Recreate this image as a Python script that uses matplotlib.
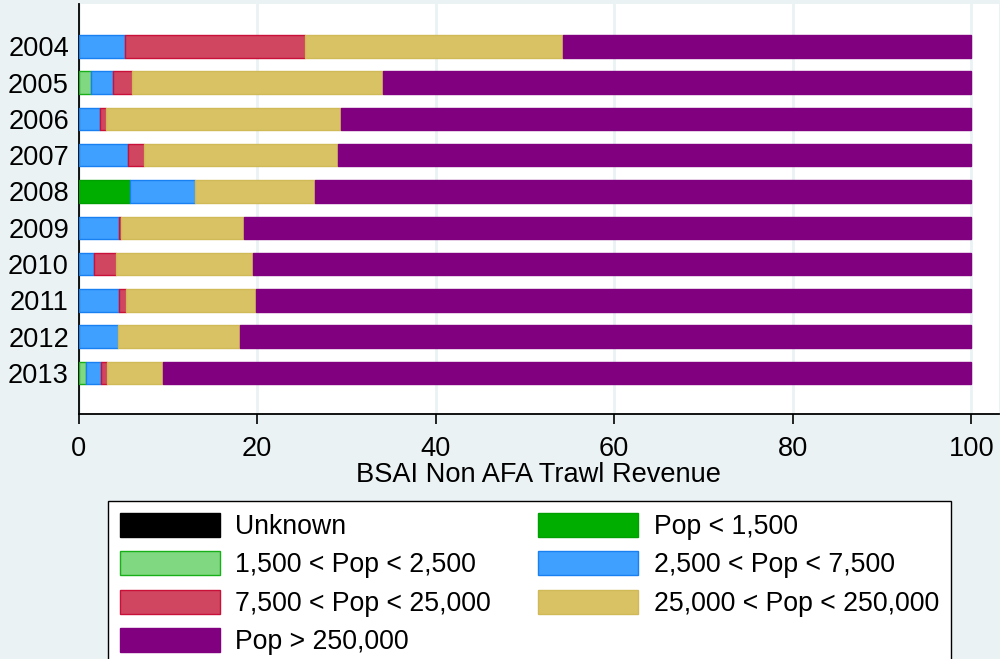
import numpy as np
import matplotlib
matplotlib.use("Agg")
import matplotlib.pyplot as plt
import matplotlib.patches as mpatches

plt.rcParams['font.family'] = ['Liberation Sans', 'DejaVu Sans']

years = ["2004", "2005", "2006", "2007", "2008", "2009", "2010", "2011", "2012", "2013"]
series_labels = ["Unknown", "Pop < 1,500", "1,500 < Pop < 2,500", "2,500 < Pop < 7,500",
                 "7,500 < Pop < 25,000", "25,000 < Pop < 250,000", "Pop > 250,000"]
unknown      = [0, 0, 0, 0, 0, 0, 0, 0, 0, 0]
pop_lt_1500  = [0, 0, 0, 0, 5.7, 0, 0, 0, 0, 0]
pop_1500_2500 = [0, 1.4, 0, 0, 0, 0, 0, 0, 0, 0.85]
pop_2500_7500 = [5.2, 2.4, 2.35, 5.5, 7.3, 4.5, 1.7, 4.55, 4.4, 1.65]
pop_7500_25k  = [20.1, 2.2, 0.7, 1.85, 0, 0.25, 2.5, 0.75, 0, 0.65]
pop_25k_250k  = [29.0, 28.1, 26.35, 21.65, 13.5, 13.75, 15.3, 14.55, 13.7, 6.35]
pop_gt_250k   = [45.7, 65.9, 70.6, 71.0, 73.5, 81.5, 80.5, 80.15, 81.9, 90.5]

series = [unknown, pop_lt_1500, pop_1500_2500, pop_2500_7500, pop_7500_25k, pop_25k_250k, pop_gt_250k]
fills = ["#000000", "#00AE00", "#80D880", "#40A0FF", "#D04560", "#D8C264", "#800080"]
edges = ["#000000", "#00A000", "#18B018", "#1880F0", "#C81038", "#D0BA58", "#800080"]

bg = "#EAF2F3"
fs = 19.6
lfs = 19.2
fig = plt.figure(figsize=(10, 6.59), dpi=100, facecolor=bg)
ax = fig.add_axes([0.0787, 1 - 414/659, 0.999 - 0.0787, (414 - 4)/659])
ax.set_facecolor("white")

y = np.arange(len(years))
left = np.zeros(len(years))
for vals, lab, fc, ec in zip(series, series_labels, fills, edges):
    v = np.array(vals, dtype=float)
    lw = np.where(v > 0, 1.0, 0.0)
    ax.barh(y, v, left=left, height=0.62, color=fc, edgecolor=ec, linewidth=lw,
            label=lab, zorder=3)
    left += v

ax.set_ylim(len(years) - 1 + 1.13, -1.165)
ax.set_xlim(0, 103.1)
ax.set_yticks(y)
ax.set_yticklabels(years)
ax.set_xticks([0, 20, 40, 60, 80, 100])
ax.tick_params(axis='y', length=0, pad=7, labelsize=fs)
ax.tick_params(axis='x', length=7, width=1.2, pad=9, labelsize=fs, direction='out')
ax.grid(axis='x', color=bg, linewidth=2, zorder=0)
ax.set_axisbelow(True)
for s in ['top', 'right']:
    ax.spines[s].set_visible(False)
for s in ['left', 'bottom']:
    ax.spines[s].set_linewidth(1.3)
    ax.spines[s].set_color('black')
ax.set_xlabel("BSAI Non AFA Trawl Revenue", fontsize=fs, labelpad=0)

order = [0, 2, 4, 6, 1, 3, 5]
leg_handles = []
for i in order:
    leg_handles.append(mpatches.Patch(facecolor=fills[i], edgecolor=edges[i], linewidth=1,
                                      label=series_labels[i]))
leg = fig.legend(handles=leg_handles, loc='upper left', bbox_to_anchor=(108/1000, 1 - 500.7/659),
                 ncol=2, fontsize=lfs, frameon=True, fancybox=False, edgecolor='black',
                 framealpha=1, handlelength=3.75, handleheight=1.0, labelspacing=0.43,
                 handletextpad=0.58, columnspacing=1.76, borderpad=0.45, borderaxespad=0)
leg.get_frame().set_linewidth(1.0)
leg.get_frame().set_facecolor('white')

fig.savefig("out.png", dpi=100, facecolor=bg)
